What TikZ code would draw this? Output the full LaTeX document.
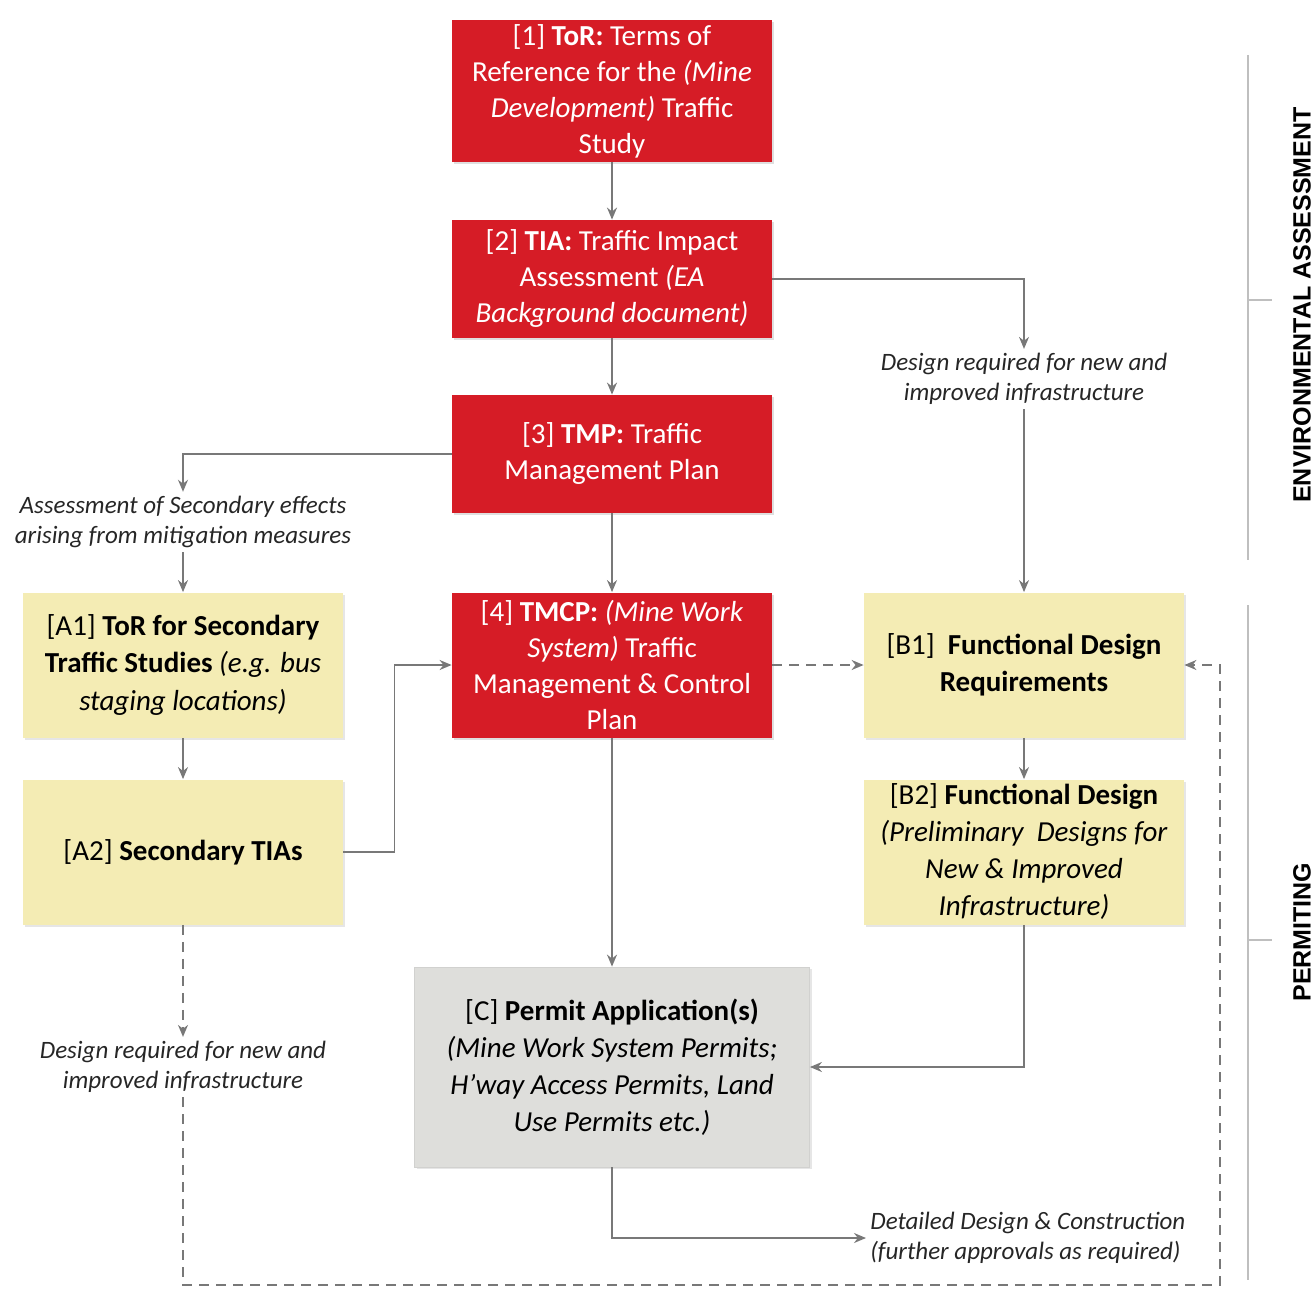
\documentclass[tikz,border=0pt]{standalone}
\usepackage{fontspec}
\setmainfont{Carlito}
\newfontfamily\sidefont{Liberation Sans}
\usepackage{tikz}
\usetikzlibrary{arrows.meta, shadows}
\definecolor{stepred}{RGB}{214,28,38}
\definecolor{stepyellow}{RGB}{244,236,180}
\definecolor{stepgrey}{RGB}{222,222,219}
\definecolor{linegrey}{RGB}{120,120,120}
\definecolor{notegrey}{RGB}{38,38,38}
\tikzstyle{redbox} = [rectangle, minimum width=160pt, inner sep=0pt, align=center, fill=stepred, text=white, font=\fontsize{14.5}{18}\selectfont, drop shadow={opacity=0.25, shadow xshift=1pt, shadow yshift=-1pt}]
\tikzstyle{yellowbox} = [rectangle, minimum width=160pt, minimum height=72.5pt, inner sep=0pt, align=center, fill=stepyellow, text=black, font=\fontsize{14.5}{18.5}\selectfont, drop shadow={opacity=0.2, shadow xshift=1pt, shadow yshift=-1pt}]
\tikzstyle{greybox} = [rectangle, minimum width=197.5pt, minimum height=100pt, inner sep=0pt, align=center, fill=stepgrey, draw=stepgrey!80!black!60, text=black, font=\fontsize{14.5}{18.5}\selectfont, drop shadow={opacity=0.2, shadow xshift=1pt, shadow yshift=-1pt}]
\tikzstyle{note} = [inner sep=2pt, align=center, text=notegrey, font=\fontsize{12.5}{15}\selectfont\itshape]
\tikzstyle{sidelabel} = [rotate=90, inner sep=0pt, font=\sidefont\fontsize{12.5}{14}\selectfont\bfseries]
\tikzstyle{arrow} = [draw=linegrey, line width=0.8pt, -{Stealth[length=6pt, width=5pt]}]
\tikzstyle{dasharrow} = [arrow, dash pattern=on 5pt off 3.5pt]
\tikzstyle{sideline} = [draw=black!25, line width=0.8pt]
\begin{document}
\begin{tikzpicture}[x=0.5pt, y=-0.5pt]
\useasboundingbox (0,0) rectangle (1315,1299);
% main column
\node (tor) [redbox, minimum height=71pt] at (612,91) {[1] \textbf{ToR:} Terms of\\Reference for the \textit{(Mine}\\\textit{Development)} Traffic\\Study};
\node (tia) [redbox, minimum height=59pt] at (612,279) {[2] \textbf{TIA:} Traffic Impact\\Assessment \textit{(EA}\\\textit{Background document)}};
\node (tmp) [redbox, minimum height=59pt] at (612,454) {[3] \textbf{TMP:} Traffic\\Management Plan};
\node (tmcp) [redbox, minimum height=72.5pt] at (612,665) {[4] \textbf{TMCP:} \textit{(Mine Work}\\\textit{System)} Traffic\\Management \& Control\\Plan};
\node (permit) [greybox] at (612,1067) {[C] \textbf{Permit Application(s)}\\\textit{(Mine Work System Permits;}\\\textit{H'way Access Permits, Land}\\\textit{Use Permits etc.)}};
% left column
\node (torA) [yellowbox] at (183,665) {[A1] \textbf{ToR for Secondary}\\\textbf{Traffic Studies} \textit{(e.g. bus}\\\textit{staging locations)}};
\node (tiaA) [yellowbox] at (183,852) {[A2] \textbf{Secondary TIAs}};
% right column
\node (reqB) [yellowbox] at (1024,665) {[B1]\ \ \textbf{Functional Design}\\\textbf{Requirements}};
\node (desB) [yellowbox] at (1024,852) {[B2] \textbf{Functional Design}\\\textit{(Preliminary\ \ Designs for}\\\textit{New \& Improved}\\\textit{Infrastructure)}};
% notes
\node (noteB) [note] at (1024,379) {Design required for new and\\improved infrastructure};
\node (noteA) [note] at (183,522) {Assessment of Secondary effects\\arising from mitigation measures};
\node (noteD) [note] at (183,1067) {Design required for new and\\improved infrastructure};
\node (noteC) [note, anchor=west, align=left] at (866,1238) {Detailed Design \& Construction\\(further approvals as required)};
\coordinate (loopR) at (1220,1285);
% connectors
\draw [arrow] (tor) -- (tia);
\draw [arrow] (tia) -- (tmp);
\draw [arrow] (tmp) -- (tmcp);
\draw [arrow] (tia.east) -| (noteB.north);
\draw [arrow] (noteB.south) -- (reqB.north);
\draw [arrow] (tmp.west) -| (noteA.north);
\draw [arrow] (noteA.south) -- (torA.north);
\draw [arrow] (torA) -- (tiaA);
\draw [arrow] (tiaA.east) -- ++(51,0) |- (tmcp.west);
\draw [dasharrow] (tmcp.east) -- (reqB.west);
\draw [arrow] (reqB) -- (desB);
\draw [arrow] (tmcp) -- (permit);
\draw [arrow] (desB.south) |- (permit.east);
\draw [arrow] (permit.south) |- (noteC.west);
\draw [dasharrow] (tiaA.south) -- (noteD.north);
\draw [dasharrow] (noteD.south) |- (loopR) |- (reqB.east);
% stages
\draw [sideline] (1248,55) -- (1248,560) (1248,300) -- (1272,300);
\draw [sideline] (1248,605) -- (1248,1280) (1248,940) -- (1272,940);
\node (stageEA) [sidelabel] at (1302,305) {ENVIRONMENTAL ASSESSMENT};
\node (stagePM) [sidelabel] at (1302,932) {PERMITING};
\end{tikzpicture}
\end{document}
